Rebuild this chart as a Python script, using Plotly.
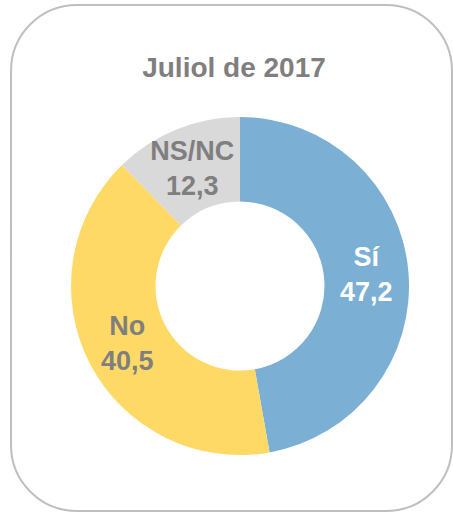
import plotly.graph_objects as go

# Data
labels = ['Sí', 'No', 'NS/NC']
values = [47.2, 40.5, 12.3]
colors = ['#7BAFD4', '#FFD966', '#D9D9D9']
text_colors = ['#FFFFFF', '#7F7F7F', '#7F7F7F']
title_text = 'Juliol de 2017'

W, H = 453, 513

# Rounded frame (pixel coords -> paper coords)
def rounded_rect(x0, y0, x1, y1, r):
    k = 0.5523 * r
    px = lambda v: v / W
    py = lambda v: 1 - v / H
    pts = [
        f"M {px(x0 + r)},{py(y0)}",
        f"L {px(x1 - r)},{py(y0)}",
        f"C {px(x1 - r + k)},{py(y0)} {px(x1)},{py(y0 + r - k)} {px(x1)},{py(y0 + r)}",
        f"L {px(x1)},{py(y1 - r)}",
        f"C {px(x1)},{py(y1 - r + k)} {px(x1 - r + k)},{py(y1)} {px(x1 - r)},{py(y1)}",
        f"L {px(x0 + r)},{py(y1)}",
        f"C {px(x0 + r - k)},{py(y1)} {px(x0)},{py(y1 - r + k)} {px(x0)},{py(y1 - r)}",
        f"L {px(x0)},{py(y0 + r)}",
        f"C {px(x0)},{py(y0 + r - k)} {px(x0 + r - k)},{py(y0)} {px(x0 + r)},{py(y0)}",
        "Z",
    ]
    return " ".join(pts)

fig = go.Figure(go.Pie(
    labels=labels,
    values=values,
    hole=0.5,
    sort=False,
    direction='clockwise',
    rotation=0,
    marker=dict(colors=colors, line=dict(width=0)),
    texttemplate='%{label}<br>%{value:.1f}',
    textposition='inside',
    insidetextorientation='horizontal',
    textfont=dict(family='Liberation Sans, Arial, sans-serif', size=27,
                  color=text_colors, weight='bold'),
    domain=dict(x=[71 / W, 409 / W], y=[(H - 455) / H, (H - 117) / H]),
    showlegend=False,
    hoverinfo='skip',
))

fig.update_layout(
    width=W,
    height=H,
    margin=dict(l=0, r=0, t=0, b=0),
    separators=',.',
    uniformtext=dict(minsize=27, mode='show'),
    paper_bgcolor='white',
    plot_bgcolor='white',
    title=dict(
        text='<b>' + title_text + '</b>',
        x=234 / W,
        xanchor='center',
        y=1 - 67 / H,
        yanchor='middle',
        font=dict(family='Liberation Sans, Arial, sans-serif', size=28, color='#7F7F7F'),
    ),
    shapes=[dict(
        type='path',
        xref='paper', yref='paper',
        path=rounded_rect(11, 5, 452, 511, 66),
        line=dict(color='#BFBFBF', width=2),
        fillcolor='rgba(0,0,0,0)',
        layer='below',
    )],
)

fig.write_html('out.html',
               config={'displayModeBar': False},
               post_script="document.body.style.margin='0';document.body.style.overflow='hidden';")
